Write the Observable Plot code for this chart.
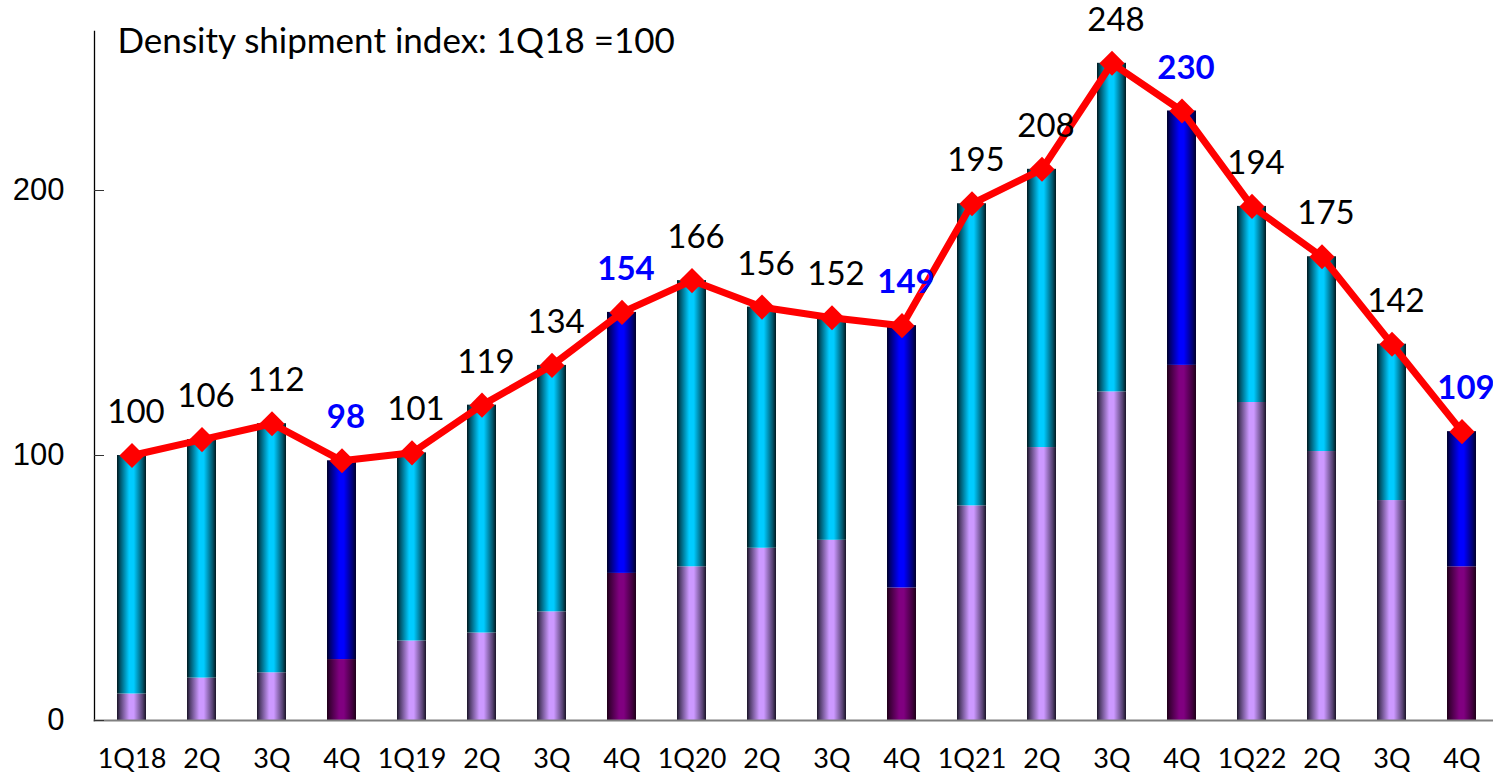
<!DOCTYPE html>
<html><head><meta charset="utf-8">
<script src="https://cdn.jsdelivr.net/npm/d3@7"></script>
<script src="https://cdn.jsdelivr.net/npm/@observablehq/plot@0.6"></script>
<style>html,body{margin:0;padding:0;background:#fff;overflow:hidden}</style>
</head><body><div id="chart"></div>
<script>
// ---- data ----
const quarters = ["1Q18","2Q","3Q","4Q","1Q19","2Q","3Q","4Q","1Q20","2Q","3Q","4Q","1Q21","2Q","3Q","4Q","1Q22","2Q","3Q","4Q"];
const totalIndex = [100,106,112,98,101,119,134,154,166,156,152,149,195,208,248,230,194,175,142,109];
const lowerPart = [10,16,18,23,30,33,41,55.5,58,65,68,50,81,103,124,134,120,101.5,83,58];
const yTicks = [0,100,200];
const title = "Density shipment index: 1Q18 =100";

const rows = quarters.map((q, i) => ({i, q, total: totalIndex[i], lower: lowerPart[i], q4: q === "4Q"}));
const idx = rows.map(d => d.i);

const labelFont = "Lato, 'Open Sans', sans-serif";

const svg = Plot.plot({
  width: 1493,
  height: 772,
  marginLeft: 94,
  marginRight: 0,
  marginTop: 31,
  marginBottom: 52,
  style: {background: "#fff", overflow: "visible"},
  x: {type: "band", domain: idx, range: [94, 1498], paddingInner: 0.587, paddingOuter: 0.2935},
  y: {domain: [0, 260]},
  marks: [
    // lower segments
    Plot.barY(rows, {filter: d => !d.q4, x: "i", y1: 0, y2: "lower", fill: "url(#gLav)"}),
    Plot.barY(rows, {filter: d => d.q4, x: "i", y1: 0, y2: "lower", fill: "url(#gPur)"}),
    // upper segments
    Plot.barY(rows, {filter: d => !d.q4, x: "i", y1: "lower", y2: "total", fill: "url(#gCyan)"}),
    Plot.barY(rows, {filter: d => d.q4, x: "i", y1: "lower", y2: "total", fill: "url(#gBlue)"}),
    // axes
    Plot.frame({anchor: "left", stroke: "#000", strokeWidth: 1.3}),
    Plot.frame({anchor: "bottom", stroke: "#808080", strokeWidth: 2}),
    Plot.axisY(yTicks, {tickSize: -10, tickPadding: 40, fontSize: 31, fontFamily: "'Liberation Sans', Arial, sans-serif", color: "#000", stroke: "#333", label: null}),
    Plot.axisX({tickSize: 0, tickPadding: 28, fontSize: 27, fontFamily: labelFont, color: "#000", tickFormat: i => quarters[i], label: null}),
    // line + markers
    Plot.line(rows, {x: "i", y: "total", stroke: "#ff0000", strokeWidth: 7, strokeLinejoin: "round"}),
    Plot.dot(rows, {x: "i", y: "total", symbol: "diamond2", r: 11.3, fill: "#ff0000", stroke: null}),
    // value labels
    Plot.text(rows, {filter: d => !d.q4, x: "i", y: "total", text: d => String(d.total), dx: 4, dy: -43, lineAnchor: "middle", fontSize: 33, fontFamily: labelFont, fill: "#000", ariaLabel: "value-labels"}),
    Plot.text(rows, {filter: d => d.q4, x: "i", y: "total", text: d => String(d.total), dx: 4, dy: -43, lineAnchor: "middle", fontSize: 33, fontWeight: "bold", fontFamily: labelFont, fill: "#0000ff", ariaLabel: "value-labels"}),
    // title
    Plot.text([title], {frameAnchor: "top-left", dx: 23, dy: 10, textAnchor: "start", lineAnchor: "middle", fontSize: 35, fontFamily: labelFont, fill: "#000"})
  ]
});

// gradients
const defs = d3.select(svg).insert("defs", ":first-child");
function grad(id, edge, main) {
  const g = defs.append("linearGradient").attr("id", id).attr("x1", "0").attr("x2", "1").attr("y1", "0").attr("y2", "0");
  [[0, edge], [0.12, d3.interpolateRgb(edge, main)(0.35)], [0.42, main], [0.58, main], [0.88, d3.interpolateRgb(edge, main)(0.35)], [1, edge]]
    .forEach(([o, c]) => g.append("stop").attr("offset", o).attr("stop-color", c));
}
grad("gCyan", "#00181e", "#00ccff");
grad("gBlue", "#000028", "#0000ff");
grad("gLav", "#1a1428", "#cc99ff");
grad("gPur", "#1e0018", "#800080");

document.getElementById("chart").appendChild(svg);

// keep value labels inside the chart area (like the original's placement)
svg.querySelectorAll('g[aria-label="value-labels"] text').forEach(t => {
  const b = t.getBBox();
  const cy = b.y + b.height / 2;
  if (cy < 27) t.setAttribute("y", +t.getAttribute("y") + (27 - cy));
  const right = b.x + b.width;
  if (right > 1488) t.setAttribute("x", +t.getAttribute("x") - (right - 1488));
});
</script>
</body></html>
